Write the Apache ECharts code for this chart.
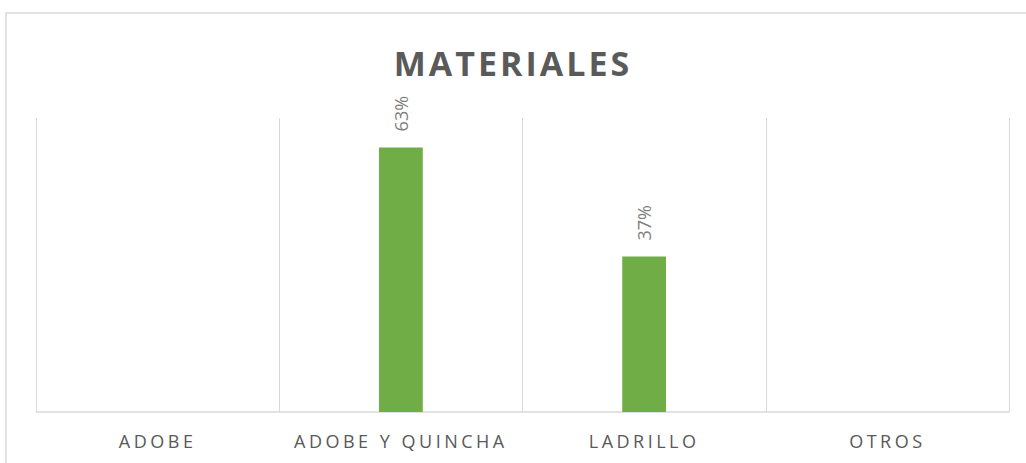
<!DOCTYPE html>
<html>
<head>
<meta charset="utf-8">
<script src="https://cdn.jsdelivr.net/npm/echarts@6/dist/echarts.min.js"></script>
<style>
  html, body { margin: 0; padding: 0; background: #fff; }
  #chart { width: 1026px; height: 463px; }
  /* Excel-style letter spacing on title and category labels */
  #chart text[fill="#595959"] { letter-spacing: 3.5px; }
  #chart text[fill="#5a5a5a"] { letter-spacing: 3px; }
</style>
</head>
<body>
<div id="chart"></div>
<script>
const categories = ['ADOBE', 'ADOBE Y QUINCHA', 'LADRILLO', 'OTROS'];
const percentages = [0, 63, 37, 0];

const chart = echarts.init(document.getElementById('chart'), null, { renderer: 'svg' });

const option = {
    animation: false,
    title: {
        text: 'MATERIALES',
        left: 'center',
        top: 41,
        textStyle: {
            fontFamily: 'Open Sans',
            fontWeight: 'bold',
            fontSize: 34,
            color: '#5a5a5a'
        }
    },
    graphic: [{
        type: 'rect',
        shape: { x: 6, y: 13, width: 1100, height: 500 },
        style: { fill: 'none', stroke: '#d9d9d9', lineWidth: 1.5 },
        silent: true
    }],
    grid: {
        left: 36,
        right: 17,
        top: 118,
        bottom: 51
    },
    xAxis: {
        type: 'category',
        data: categories,
        boundaryGap: true,
        axisLine: { lineStyle: { color: '#d9d9d9', width: 1.5 } },
        axisTick: { show: false },
        splitLine: { show: true, lineStyle: { color: '#d9d9d9', width: 1 } },
        axisLabel: {
            fontFamily: 'Open Sans',
            fontSize: 18,
            color: '#595959',
            margin: 20
        }
    },
    yAxis: {
        type: 'value',
        min: 0,
        max: 70,
        show: false
    },
    series: [{
        type: 'bar',
        data: percentages,
        barWidth: '18%',
        itemStyle: { color: '#70ad47' },
        label: {
            show: true,
            position: 'top',
            rotate: 90,
            align: 'left',
            verticalAlign: 'middle',
            distance: 16,
            fontFamily: 'Open Sans',
            fontSize: 18,
            color: '#7f7f7f',
            formatter: p => p.value ? p.value + '%' : ''
        }
    }]
};

chart.setOption(option);
</script>
</body>
</html>
